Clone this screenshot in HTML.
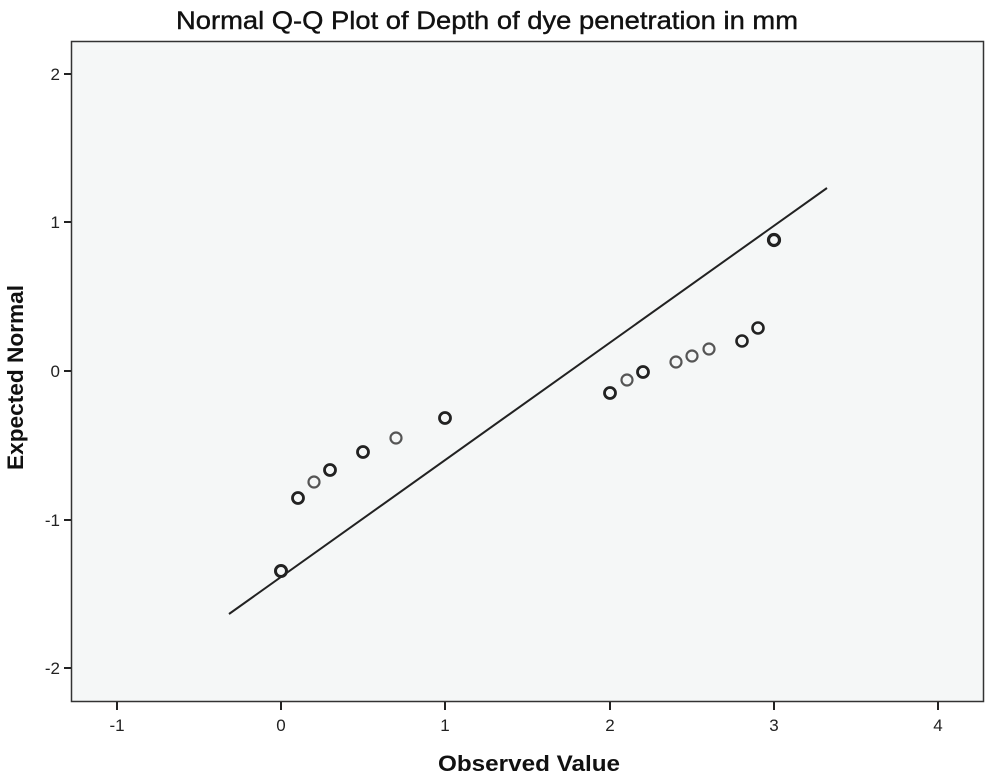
<!DOCTYPE html>
<html><head><meta charset="utf-8"><style>
html,body{margin:0;padding:0;background:#fff;}
svg{display:block;font-family:"Liberation Sans",Arial,sans-serif;}
</style></head><body>
<svg width="991" height="780" viewBox="0 0 991 780" xmlns="http://www.w3.org/2000/svg">
<rect width="991" height="780" fill="#ffffff"/>
<text x="176" y="29" font-size="25" textLength="622" lengthAdjust="spacingAndGlyphs" fill="#111" stroke="#111" stroke-width="0.4">Normal Q-Q Plot of Depth of dye penetration in mm</text>
<rect x="71.5" y="41.5" width="912" height="660" fill="#f5f7f7" stroke="#333" stroke-width="1.5"/>
<g stroke="#222" stroke-width="2">
<line x1="64" y1="74" x2="71" y2="74"/>
<line x1="64" y1="222" x2="71" y2="222"/>
<line x1="64" y1="371" x2="71" y2="371"/>
<line x1="64" y1="520" x2="71" y2="520"/>
<line x1="64" y1="668" x2="71" y2="668"/>
<line x1="117" y1="702" x2="117" y2="710"/>
<line x1="281" y1="702" x2="281" y2="710"/>
<line x1="445" y1="702" x2="445" y2="710"/>
<line x1="610" y1="702" x2="610" y2="710"/>
<line x1="774" y1="702" x2="774" y2="710"/>
<line x1="938" y1="702" x2="938" y2="710"/>
</g>
<g font-size="17" fill="#222" text-anchor="end">
<text x="60" y="80">2</text>
<text x="60" y="228">1</text>
<text x="60" y="377">0</text>
<text x="60" y="526">-1</text>
<text x="60" y="674">-2</text>
</g>
<g font-size="17" fill="#222" text-anchor="middle">
<text x="117" y="731">-1</text>
<text x="281" y="731">0</text>
<text x="445" y="731">1</text>
<text x="610" y="731">2</text>
<text x="774" y="731">3</text>
<text x="938" y="731">4</text>
</g>
<text x="438" y="771" font-size="22" font-weight="bold" textLength="182" lengthAdjust="spacingAndGlyphs" fill="#111">Observed Value</text>
<text transform="translate(23,470) rotate(-90)" font-size="22" font-weight="bold" textLength="185" lengthAdjust="spacingAndGlyphs" fill="#111">Expected Normal</text>
<line x1="229" y1="614" x2="827" y2="188" stroke="#222" stroke-width="2"/>
<g fill="none" stroke="#222" stroke-width="2.2">
<circle cx="281" cy="571" r="5.5" stroke-width="3"/>
<circle cx="298" cy="498" r="5.5" stroke-width="2.8"/>
<circle cx="314" cy="482" r="5.5" stroke="#555"/>
<circle cx="330" cy="470" r="5.5" stroke-width="2.8"/>
<circle cx="363" cy="452" r="5.5" stroke-width="2.8"/>
<circle cx="396" cy="438" r="5.5" stroke="#555"/>
<circle cx="445" cy="418" r="5.5" stroke-width="2.8"/>
<circle cx="610" cy="393" r="5.5" stroke-width="2.8"/>
<circle cx="627" cy="380" r="5.5" stroke="#555"/>
<circle cx="643" cy="372" r="5.5" stroke-width="2.8"/>
<circle cx="676" cy="362" r="5.5" stroke="#555"/>
<circle cx="692" cy="356" r="5.5" stroke="#555"/>
<circle cx="709" cy="349" r="5.5" stroke="#555"/>
<circle cx="742" cy="341" r="5.5" stroke-width="2.6"/>
<circle cx="758" cy="328" r="5.5" stroke-width="2.6"/>
<circle cx="774" cy="240" r="5.5" stroke-width="3.2"/>
</g>
</svg>
</body></html>
